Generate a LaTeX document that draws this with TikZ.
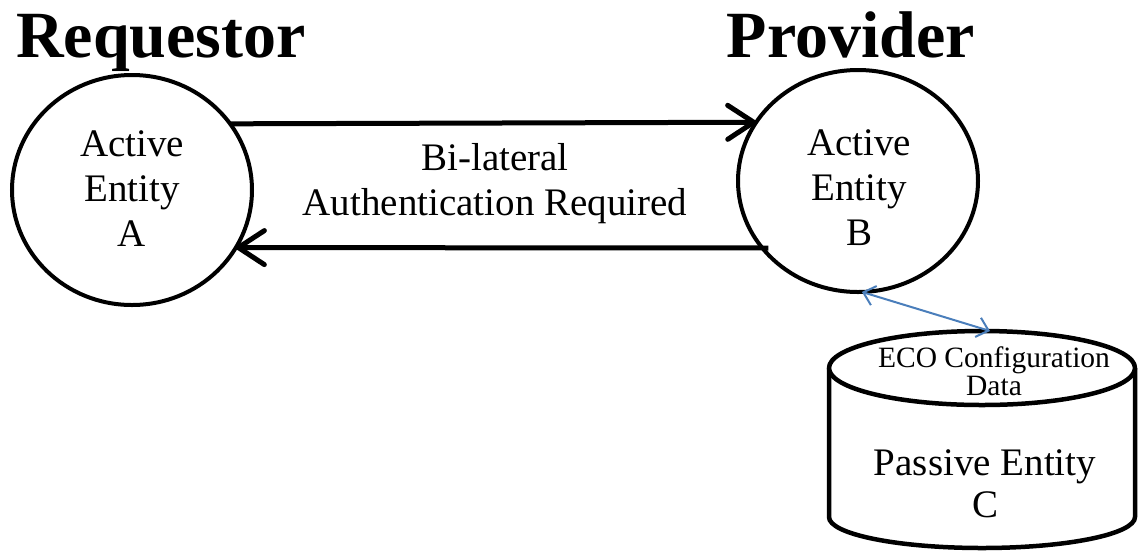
\documentclass[tikz,border=0pt]{standalone}
\usepackage{fontspec}
\setmainfont{Liberation Serif}
\usetikzlibrary{shapes.geometric,arrows.meta}
\definecolor{linkblue}{HTML}{4A7EBB}
\tikzset{
  entity/.style={draw, ellipse, line width=4pt, minimum width=240pt,
    inner sep=0pt, outer sep=0pt},
  heading/.style={font=\fontsize{66}{70}\selectfont\bfseries, anchor=base, inner sep=0pt},
  bodytext/.style={font=\fontsize{39}{45}\selectfont, align=center, anchor=base, inner sep=0pt},
  storetext/.style={font=\fontsize{29.5}{28}\selectfont, align=center, anchor=base, inner sep=0pt},
  flow/.style={line width=5pt, -{Straight Barb[length=26pt,width=34pt,round]}},
  access/.style={draw=linkblue, line width=2pt,
    {Straight Barb[length=11pt,width=20pt]}-{Straight Barb[length=11pt,width=20pt]}},
  vessel/.style={line width=4.5pt, line join=round}
}
\begin{document}
\begin{tikzpicture}[x=1pt,y=-1pt]
\useasboundingbox (0,0) rectangle (1138,550);

% headings
\node[heading] (req) at (161,57) {Requestor};
\node[heading] (prov) at (851,57) {Provider};

% active entities (text anchored on the baseline of its last line)
\node[entity, minimum height=230pt] (A) at (132,190) {};
\node[entity, minimum height=222pt] (B) at (858,181) {};
\node[bodytext] (Atext) at (132,246) {Active\\Entity\\A};
\node[bodytext] (Btext) at (859,245) {Active\\Entity\\B};

% authentication exchange
\draw[flow] (A.34.5) -- (B.150.4);
\draw[flow, shorten <=-6pt] (B.215.6) -- (A.-29.8);
\node[bodytext] (auth) at (495,215) {Bi-lateral\\Authentication Required};

% passive entity store
\draw[vessel] (829,368) -- (829,517) arc[start angle=180, end angle=360,
  x radius=153pt, y radius=31pt] -- (1135,368);
\draw[vessel, fill=white] (982,368) ellipse [x radius=153pt, y radius=37pt];
\coordinate (storetop) at (990,331);
\node[storetext] (eco) at (994,395) {ECO Configuration\\Data};
\node[bodytext, font=\fontsize{39}{42}\selectfont] (passive) at (985,517) {Passive Entity\\C};

% access link
\draw[access] (B.-88) -- (storetop);
\end{tikzpicture}
\end{document}
